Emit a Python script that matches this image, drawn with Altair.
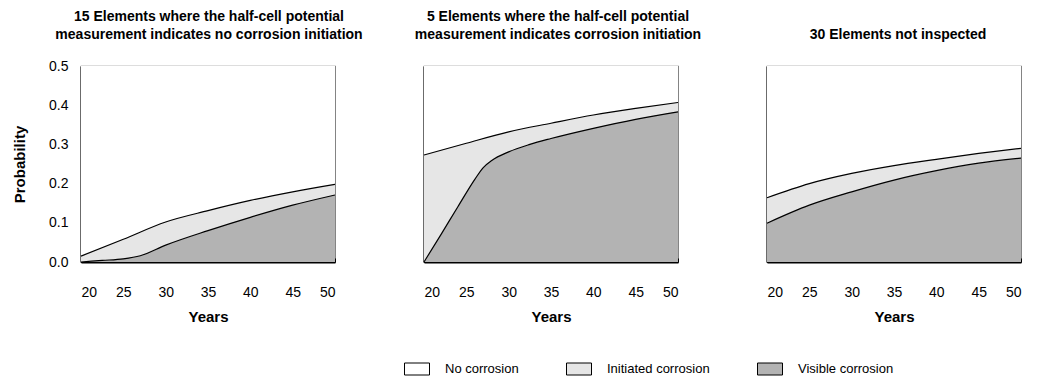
import altair as alt
import pandas as pd

FONT = "Liberation Sans"

series_names = ["No corrosion", "Initiated corrosion", "Visible corrosion"]
series_colors = ["#ffffff", "#e6e6e6", "#b3b3b3"]

panel_titles = [
    ["15 Elements where the half-cell potential", "measurement indicates no corrosion initiation"],
    ["5 Elements where the half-cell potential", "measurement indicates corrosion initiation"],
    ["30 Elements not inspected"],
]

# Panel 1
p1_total_years = [20, 25, 30, 35, 40, 45, 50]
p1_total = [0.015, 0.058, 0.102, 0.131, 0.157, 0.179, 0.198]
p1_visible_years = [20, 22.5, 25, 27, 30, 35, 40, 45, 50]
p1_visible = [0.0, 0.004, 0.008, 0.016, 0.043, 0.080, 0.114, 0.145, 0.171]

# Panel 2
p2_total_years = [20, 25, 30, 35, 40, 45, 50]
p2_total = [0.273, 0.303, 0.332, 0.354, 0.375, 0.392, 0.407]
p2_visible_years = [20, 22, 24, 26, 27, 28, 30, 32.5, 35, 40, 45, 50]
p2_visible = [0.0, 0.070, 0.141, 0.211, 0.241, 0.259, 0.281, 0.300, 0.315, 0.341, 0.364, 0.383]

# Panel 3
p3_total_years = [20, 25, 30, 35, 40, 45, 50]
p3_total = [0.164, 0.200, 0.226, 0.246, 0.262, 0.277, 0.290]
p3_visible_years = [20, 25, 30, 35, 40, 45, 50]
p3_visible = [0.099, 0.145, 0.179, 0.209, 0.233, 0.252, 0.265]

x_ticks = [20, 25, 30, 35, 40, 45, 50]
y_ticks = [0.0, 0.1, 0.2, 0.3, 0.4, 0.5]

panels = [
    (p1_total_years, p1_total, p1_visible_years, p1_visible),
    (p2_total_years, p2_total, p2_visible_years, p2_visible),
    (p3_total_years, p3_total, p3_visible_years, p3_visible),
]

color_scale = alt.Scale(domain=series_names, range=series_colors)
legend = alt.Legend(
    title=None,
    orient="none",
    direction="horizontal",
    legendX=323,
    legendY=290,
    symbolType="M-1,-0.48H1V0.48H-1Z",
    symbolSize=625,
    symbolStrokeColor="black",
    symbolStrokeWidth=1,
    symbolOpacity=1,
    labelFont=FONT,
    labelFontSize=13,
    labelColor="black",
    labelOffset=15,
    columnPadding=45,
)

title_dx = [1, 7, 4]
title_offset = [17, 24, 24]
charts = []
for i, (ty, tv, vy, vv) in enumerate(panels):
    df_total = pd.DataFrame({"year": ty, "p": tv, "series": series_names[1]})
    df_vis = pd.DataFrame({"year": vy, "p": vv, "series": series_names[2]})
    df_none = pd.DataFrame({"year": [20, 50], "p": [0.5, 0.5], "series": series_names[0]})

    first = i == 0
    x_axis = alt.Axis(
        values=x_ticks, format="d", tickSize={"expr": "-4"}, tickColor="black",
        labelPadding=27, labelFont=FONT, labelFontSize=14, labelColor="black",
        domainColor="black", domainWidth=2, grid=False,
        title="Years", titleFont=FONT, titleFontSize=15, titleFontWeight="bold",
        titleColor="black", titlePadding=10,
    )
    if first:
        y_axis = alt.Axis(
            values=y_ticks, format=".1f", tickSize={"expr": "-5"}, tickColor="black",
            labelPadding=18, labelFont=FONT, labelFontSize=14, labelColor="black",
            domainColor="black", domainWidth=2, grid=False,
            title="Probability", titleFont=FONT, titleFontSize=15,
            titleFontWeight="bold", titleColor="black", titlePadding=21,
        )
    else:
        y_axis = alt.Axis(
            values=y_ticks, tickSize={"expr": "-5"}, tickColor="black", labels=False,
            domainColor="black", domainWidth=2, grid=False, title=None,
        )
    xs = alt.X("year:Q", scale=alt.Scale(domain=[20, 50], nice=False), axis=x_axis)
    ys = alt.Y("p:Q", scale=alt.Scale(domain=[0, 0.5], nice=False), axis=y_axis)
    col = alt.Color("series:N", scale=color_scale, legend=legend)

    none_area = alt.Chart(df_none).mark_area(opacity=1).encode(x=xs, y=ys, color=col)
    init_area = alt.Chart(df_total).mark_area(interpolate="monotone", opacity=1).encode(
        x=xs, y=ys, color=col)
    vis_area = alt.Chart(df_vis).mark_area(interpolate="monotone", opacity=1).encode(
        x=xs, y=ys, color=col)
    init_line = alt.Chart(df_total).mark_line(
        interpolate="monotone", color="black", strokeWidth=1.2).encode(x=xs, y=ys)
    vis_line = alt.Chart(df_vis).mark_line(
        interpolate="monotone", color="black", strokeWidth=1.2).encode(x=xs, y=ys)

    layer = alt.layer(none_area, init_area, vis_area, init_line, vis_line).properties(
        width=254,
        height=196,
        title=alt.TitleParams(
            text=panel_titles[i], font=FONT, fontSize=14, fontWeight="bold",
            color="black", anchor="middle", frame="group", offset=title_offset[i],
            lineHeight=18, dx=title_dx[i],
        ),
    )
    charts.append(layer)

chart = alt.hconcat(*charts, spacing=89, bounds="flush").properties(
    padding={"left": 3, "top": 0, "right": 0, "bottom": 0}
).configure_view(
    stroke="#777777", strokeWidth=1.2
).resolve_scale(color="shared")

chart.save("out.html", embed_options={"renderer": "svg", "actions": False})
